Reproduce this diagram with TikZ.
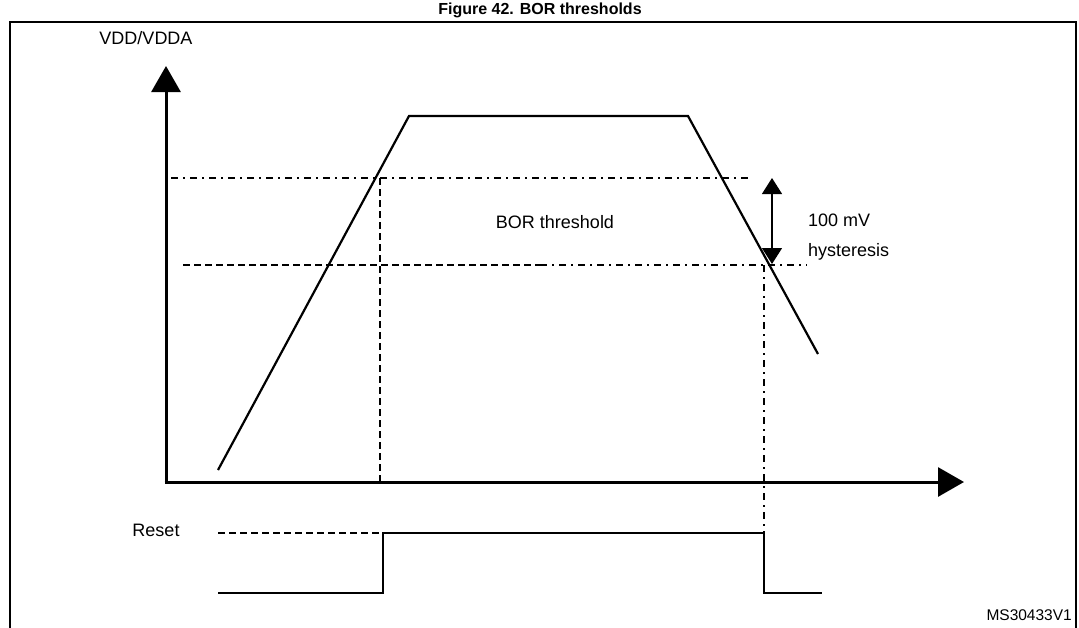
\documentclass[tikz,border=0pt]{standalone}
\usepackage{fontspec}
\setmainfont{Liberation Sans}
\usetikzlibrary{arrows.meta}
\begin{document}
\begin{tikzpicture}[x=1pt,y=-1pt,
  lbl/.style={font=\fontsize{18}{21}\selectfont, inner sep=0pt},
  ax/.style={line width=3pt,-{Triangle[length=26pt,width=29pt]}},
  dd/.style={line width=1.4pt,dash pattern=on 7pt off 5pt on 2pt off 5pt},
  ds/.style={line width=1.2pt,dash pattern=on 7pt off 4pt},
  sig/.style={line width=2.2pt}]
\useasboundingbox (0,0) rectangle (1079,627);
\node[font=\bfseries\fontsize{16}{18}\selectfont,inner sep=0pt] (title) at (540,10) {Figure 42. BOR thresholds};
\draw[line width=1.5pt] (10,640) -- (10,22) -- (1076,22) -- (1076,640);
% axes
\coordinate (ytip) at (166,66);
\coordinate (xtip) at (964,482);
\draw[ax] (166,483.5) -- (ytip);
\draw[ax] (164.5,482) -- (xtip);
\node[lbl] (vdd) at (146,38) {VDD/VDDA};
% curve
\coordinate (c0) at (218,470);
\coordinate (c1) at (409,116);
\coordinate (c2) at (688,116);
\coordinate (c3) at (818,354);
\draw[sig] (c0) -- (c1) -- (c2) -- (c3);
% threshold lines
\coordinate (u0) at (171,178); \coordinate (u1) at (749,178);
\coordinate (l0) at (183,265); \coordinate (lm) at (540,265); \coordinate (l1) at (807,265);
\draw[dd] (u0) -- (u1);
\draw[ds] (l0) -- (lm);
\draw[dd] (lm) -- (l1);
\coordinate (v1a) at (380,178); \coordinate (v1b) at (380,482);
\draw[ds] (v1a) -- (v1b);
\coordinate (v2a) at (764,265); \coordinate (v2b) at (764,593);
\draw[dd] (v2a) -- (v2b);
% hysteresis arrow
\coordinate (h0) at (772,178); \coordinate (h1) at (772,264);
\draw[line width=1.2pt,{Triangle[length=16pt,width=20pt]}-{Triangle[length=16pt,width=20pt]}] (h0) -- (h1);
\node[lbl] (thr) at (555,222) {BOR threshold};
\node[lbl,anchor=west] (mv) at (808,220) {100 mV};
\node[lbl,anchor=west] (hy) at (808,252) {hysteresis};
% reset
\node[lbl] (rst) at (156,530) {Reset};
\coordinate (r0) at (218,533); \coordinate (r1) at (383,533);
\draw[ds] (r0) -- (r1);
\draw[sig] (218,593) -- (383,593) -- (383,533) -- (764,533) -- (764,593) -- (822,593);
\node[font=\fontsize{15.5}{18}\selectfont,anchor=east,inner sep=0pt] (ms) at (1072,615) {MS30433V1};
\end{tikzpicture}
\end{document}
